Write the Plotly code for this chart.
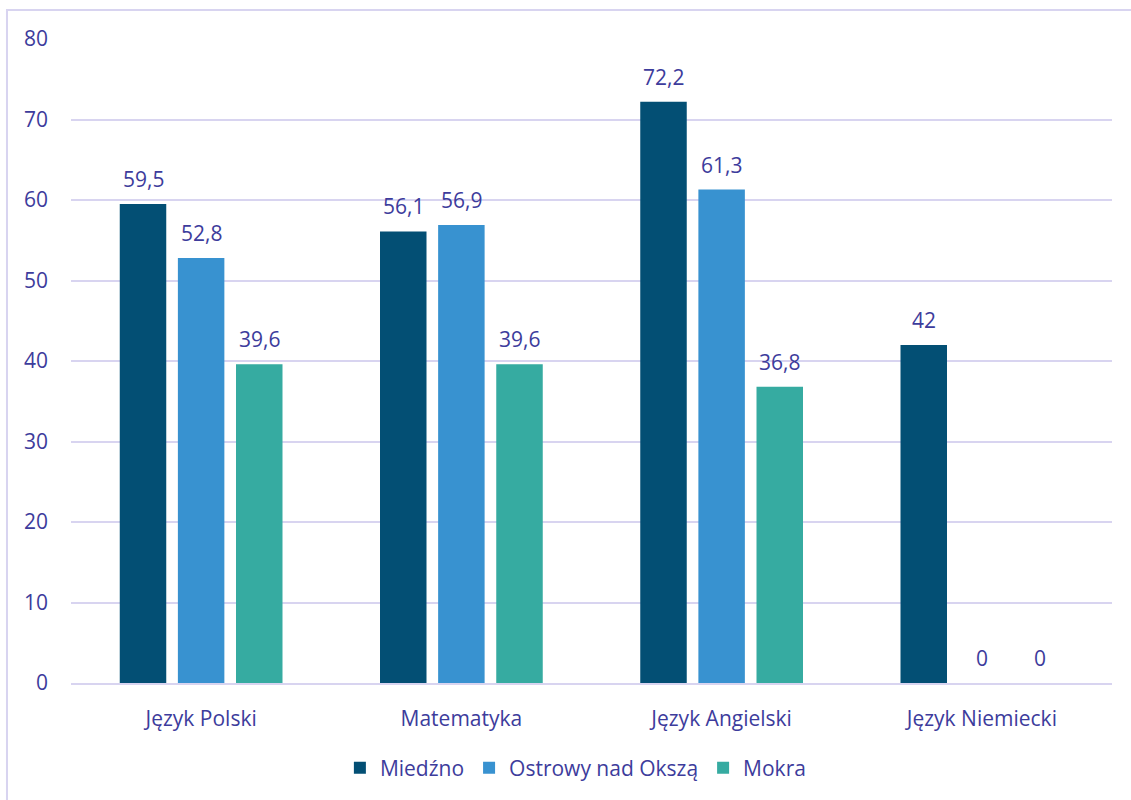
import plotly.graph_objects as go

categories = ["Język Polski", "Matematyka", "Język Angielski", "Język Niemiecki"]
miedzno = [59.5, 56.1, 72.2, 42]
ostrowy = [52.8, 56.9, 61.3, 0]
mokra = [39.6, 39.6, 36.8, 0]

series_names = ["Miedźno", "Ostrowy nad Okszą", "Mokra"]
series_colors = ["#034f74", "#3892d0", "#36aba1"]
y_ticks = [0, 10, 20, 30, 40, 50, 60, 70, 80]

TEXT = "#3d3c9c"
GRID = "#d8d4f0"
FONT = "Open Sans"
SIZE = 21

# horizontal offset (px) of each series' bar from its category centre
SLOT_PX = 58


def fmt(v):
    return f"{v:g}".replace(".", ",")


fig = go.Figure()
annotations = []
all_series = [miedzno, ostrowy, mokra]
for i, (name, vals, color) in enumerate(zip(series_names, all_series, series_colors)):
    fig.add_trace(go.Bar(
        name=name, x=categories, y=vals,
        marker=dict(color=color, line=dict(width=0)),
    ))
    for cat, v in zip(categories, vals):
        annotations.append(dict(
            x=cat, y=v, xref="x", yref="y", text=fmt(v), showarrow=False,
            xshift=(i - 1) * SLOT_PX, yshift=25, yanchor="middle",
            font=dict(family=FONT, size=SIZE, color=TEXT),
        ))

fig.update_layout(
    width=1131, height=800,
    margin=dict(l=71, r=19, t=39, b=114),
    paper_bgcolor="white", plot_bgcolor="white",
    barmode="group", bargap=0.33, bargroupgap=0.2,
    font=dict(family=FONT, size=SIZE, color=TEXT),
    showlegend=True,
    legend=dict(orientation="h", x=0.485, xanchor="center", y=-0.132, yanchor="middle",
                font=dict(family=FONT, size=SIZE, color=TEXT), itemwidth=30,
                traceorder="normal"),
    xaxis=dict(showgrid=False, showline=True, linecolor=GRID, linewidth=2,
               ticks="", ticklabelstandoff=16, tickfont=dict(size=SIZE, color=TEXT)),
    yaxis=dict(range=[0, 80], tickvals=y_ticks, showgrid=True, gridcolor=GRID,
               gridwidth=2, zeroline=False, showline=False, ticks="",
               ticklabelstandoff=22, tickfont=dict(size=SIZE, color=TEXT)),
    annotations=annotations,
    shapes=[dict(type="rect", xref="paper", yref="paper",
                 x0=-0.0615, x1=1.03, y0=-0.2, y1=1.0449,
                 line=dict(color=GRID, width=2), fillcolor="rgba(0,0,0,0)",
                 layer="below")],
)

fig.write_html("out.html")
